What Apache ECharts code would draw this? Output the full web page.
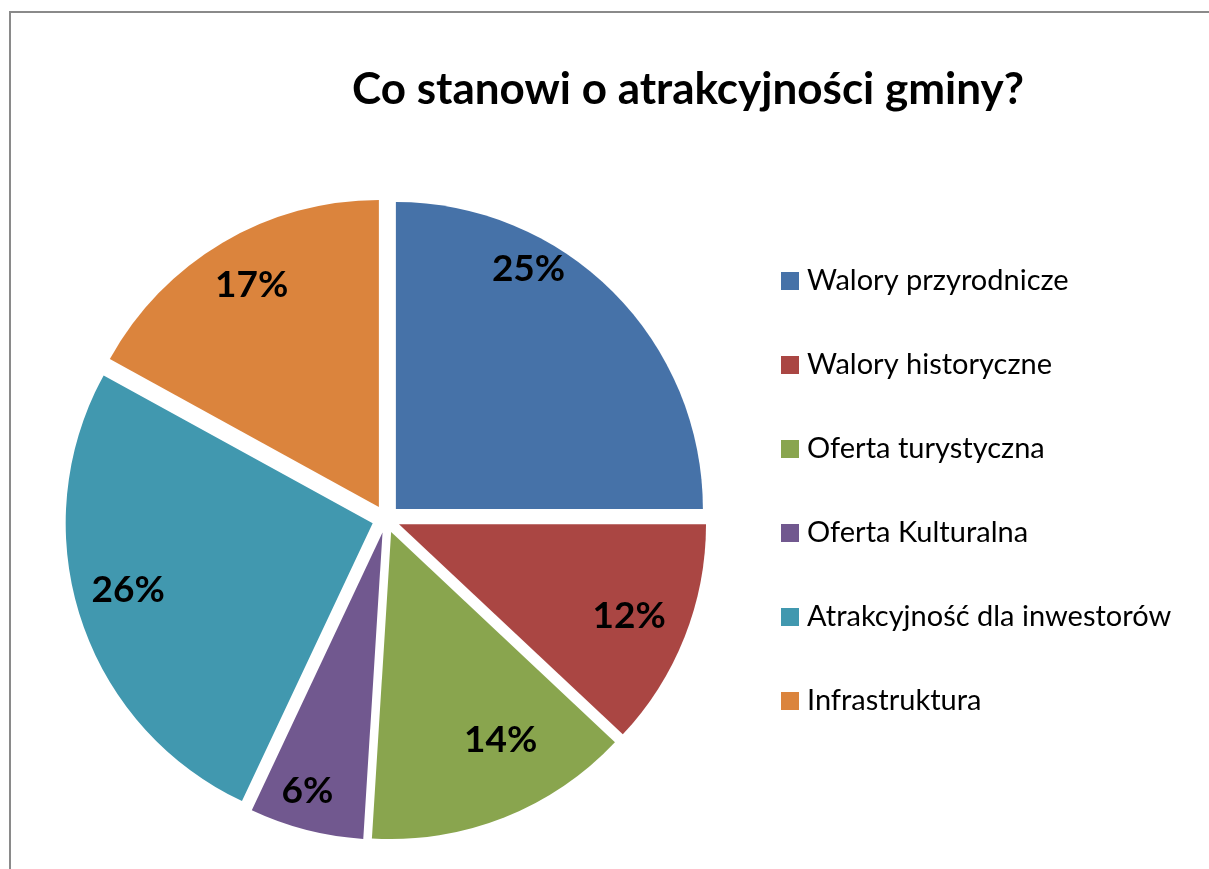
<!DOCTYPE html>
<html>
<head>
<meta charset="utf-8">
<script src="https://cdn.jsdelivr.net/npm/echarts@6/dist/echarts.min.js"></script>
<style>
  html, body { margin: 0; padding: 0; background: #fff; }
  #chart { width: 1209px; height: 869px; }
</style>
</head>
<body>
<div id="chart"></div>
<script>
  const categories = [
    'Walory przyrodnicze',
    'Walory historyczne',
    'Oferta turystyczna',
    'Oferta Kulturalna',
    'Atrakcyjność dla inwestorów',
    'Infrastruktura'
  ]
  const shares = [25, 12, 14, 6, 26, 17]
  const colors = ['#4672A8', '#AA4643', '#89A54E', '#71588F', '#4198AF', '#DB843D']

  // Excel "best fit" moved some labels off the bisector, nudge them a bit
  const labelNudge = [[-47, -60], [-6, -2], [16, -28], [-12, 12], [-3, -12], [2, -3]]

  const font = 'Lato, "Open Sans", sans-serif'
  const center = [386, 519]

  const sliceData = categories.map((name, i) => ({
    name: name,
    value: shares[i],
    selected: true,
    itemStyle: { color: colors[i] }
  }))
  // same values again, invisible, only to put the % labels further out
  const labelData = categories.map((name, i) => ({
    name: name,
    value: shares[i],
    label: { offset: labelNudge[i] }
  }))

  const myChart = echarts.init(document.getElementById('chart'))
  myChart.setOption({
    animation: false,
    backgroundColor: '#fff',
    title: {
      text: 'Co stanowi o atrakcyjności gminy?',
      left: 683,
      top: 63,
      textAlign: 'center',
      textStyle: { fontFamily: font, fontWeight: 'bold', fontSize: 44, color: '#000' }
    },
    legend: {
      orient: 'vertical',
      left: 781,
      top: 266,
      padding: 0,
      icon: 'rect',
      itemWidth: 18,
      itemHeight: 18,
      itemGap: 54,
      textStyle: { fontFamily: font, fontSize: 29, color: '#000', lineHeight: 30, padding: [0, 0, 0, 3] },
      data: categories
    },
    graphic: [{
      type: 'rect',
      shape: { x: 10, y: 12, width: 1400, height: 1000 },
      style: { fill: 'none', stroke: '#8a8a8a', lineWidth: 2 },
      silent: true
    }],
    series: [{
      name: 'slices',
      type: 'pie',
      center: center,
      radius: 307,
      startAngle: 90,
      clockwise: true,
      selectedMode: 'multiple',
      selectedOffset: 14,
      label: { show: false },
      labelLine: { show: false },
      emphasis: { disabled: true },
      select: { itemStyle: { borderWidth: 0 } },
      data: sliceData
    }, {
      name: 'labels',
      type: 'pie',
      silent: true,
      center: center,
      radius: [0, 530],
      startAngle: 90,
      clockwise: true,
      itemStyle: { color: 'rgba(0,0,0,0)' },
      label: {
        show: true,
        position: 'inside',
        formatter: '{c}%',
        fontFamily: font,
        fontWeight: 'bold',
        fontSize: 37,
        color: '#000'
      },
      labelLine: { show: false },
      emphasis: { disabled: true },
      data: labelData
    }]
  })
</script>
</body>
</html>
